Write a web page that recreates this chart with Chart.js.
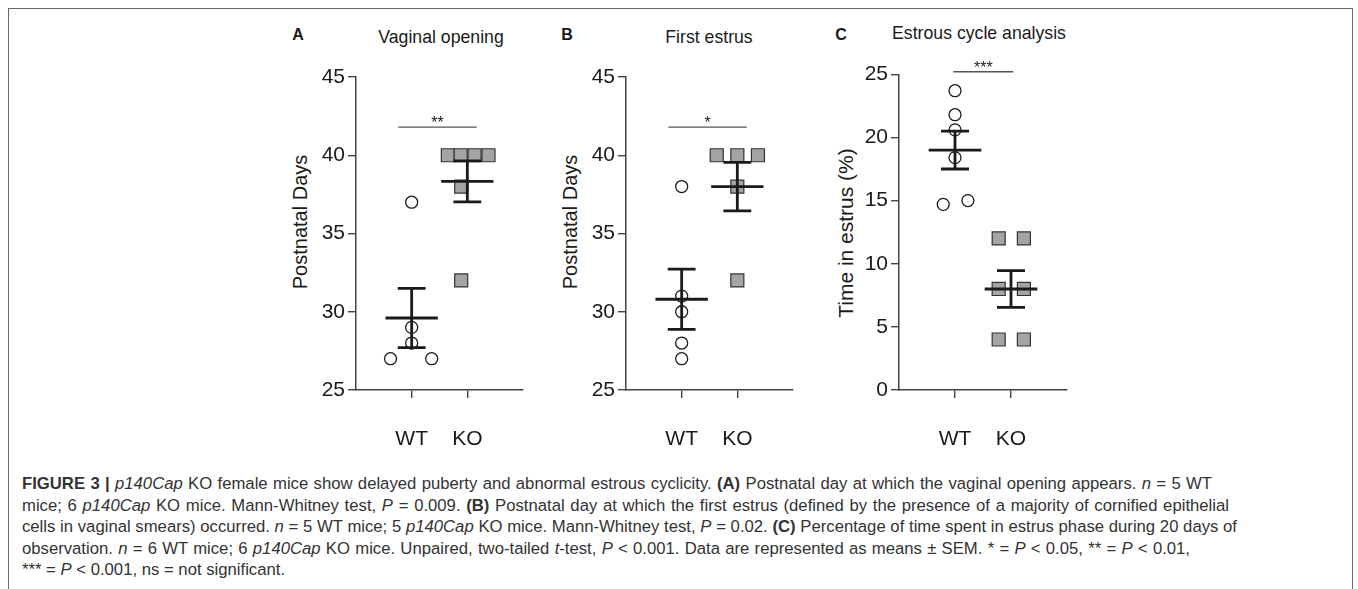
<!DOCTYPE html>
<html>
<head>
<meta charset="utf-8">
<script src="https://cdn.jsdelivr.net/npm/chart.js@4.4.1/dist/chart.umd.min.js"></script>
<style>
  body { margin: 0; background: #fff; }
  #fig { position: relative; width: 1358px; height: 589px; overflow: hidden; background: #fff;
         font-family: 'Liberation Sans', Arial, sans-serif; color: #1a1a1a; }
  .frame { position: absolute; left: 8px; top: 8px; width: 1343px; height: 640px; border: 1.5px solid #666; }
  .cv { position: absolute; }
  .letter { position: absolute; font-weight: bold; font-size: 16px; line-height: 1; transform: translate(-50%, -50%); }
  .ptitle { position: absolute; font-size: 19px; line-height: 1; white-space: nowrap;
            transform: translate(-50%, -50%) scaleX(0.93); }
  .ytitle { position: absolute; font-size: 20px; line-height: 1; white-space: nowrap;
            transform: translate(-50%, -50%) rotate(-90deg); }
  .caption { position: absolute; left: 22px; top: 473px; font-size: 16.7px; line-height: 21.5px; color: #333; }
  .caption div { white-space: nowrap; }
</style>
</head>
<body>
<div id="fig">
  <div class="frame"></div>

  <div class="letter" style="left:298px;top:35px">A</div>
  <div class="letter" style="left:567px;top:35px">B</div>
  <div class="letter" style="left:841px;top:35px">C</div>
  <div class="ptitle" style="left:441px;top:36px">Vaginal opening</div>
  <div class="ptitle" style="left:709px;top:36px">First estrus</div>
  <div class="ptitle" style="left:979px;top:32px">Estrous cycle analysis</div>

  <div class="ytitle" style="left:300px;top:222px">Postnatal Days</div>
  <div class="ytitle" style="left:570px;top:222px">Postnatal Days</div>
  <div class="ytitle" style="left:845px;top:233px;font-size:21px">Time in estrus (%)</div>

  <canvas id="chartA" class="cv" width="260" height="440" style="left:280px;top:20px"></canvas>
  <canvas id="chartB" class="cv" width="260" height="440" style="left:550px;top:20px"></canvas>
  <canvas id="chartC" class="cv" width="265" height="440" style="left:820px;top:20px"></canvas>

  <div class="caption">
    <div><span><b>FIGURE 3 |</b> <i>p140Cap</i> KO female mice show delayed puberty and abnormal estrous cyclicity. <b>(A)</b> Postnatal day at which the vaginal opening appears. <i>n</i> = 5 WT</span></div>
    <div><span>mice; 6 <i>p140Cap</i> KO mice. Mann-Whitney test, <i>P</i> = 0.009. <b>(B)</b> Postnatal day at which the first estrus (defined by the presence of a majority of cornified epithelial</span></div>
    <div><span>cells in vaginal smears) occurred. <i>n</i> = 5 WT mice; 5 <i>p140Cap</i> KO mice. Mann-Whitney test, <i>P</i> = 0.02. <b>(C)</b> Percentage of time spent in estrus phase during 20 days of</span></div>
    <div><span>observation. <i>n</i> = 6 WT mice; 6 <i>p140Cap</i> KO mice. Unpaired, two-tailed <i>t</i>-test, <i>P</i> &lt; 0.001. Data are represented as means ± SEM. * = <i>P</i> &lt; 0.05, ** = <i>P</i> &lt; 0.01,</span></div>
    <div><span>*** = <i>P</i> &lt; 0.001, ns = not significant.</span></div>
  </div>
</div>

<script>
/* ---------- data ---------- */
const groups = ['WT', 'KO'];

// A: vaginal opening (postnatal day)
const vagWT = [37, 29, 28, 27, 27];
const vagWTJitter = [0, 0, 0, -0.38, 0.36];
const vagKO = [40, 40, 40, 40, 38, 32];
const vagKOJitter = [-0.35, -0.12, 0.13, 0.38, -0.11, -0.11];
const vagMean = [29.6, 38.33];
const vagSem = [1.89, 1.31];

// B: first estrus (postnatal day)
const estWT = [38, 31, 30, 28, 27];
const estWTJitter = [0, 0, 0, 0, 0];
const estKO = [40, 40, 40, 38, 32];
const estKOJitter = [-0.37, 0, 0.37, 0, 0];
const estMean = [30.8, 38.0];
const estSem = [1.93, 1.55];

// C: time in estrus (%)
const cycWT = [23.7, 21.8, 20.6, 18.4, 14.7, 15.0];
const cycWTJitter = [0, 0, 0, 0, -0.21, 0.23];
const cycKO = [12, 12, 8, 8, 4, 4];
const cycKOJitter = [-0.22, 0.23, -0.22, 0.23, -0.22, 0.23];
const cycMean = [19.0, 8.0];
const cycSem = [1.5, 1.46];

const daysTicks = [25, 30, 35, 40, 45];
const pctTicks = [0, 5, 10, 15, 20, 25];

/* ---------- style ---------- */
const INK = '#1a1a1a';
const AXIS = '#444';
const FONT = "'Liberation Sans', Arial, sans-serif";

function toPoints(values, jitter, groupIdx) {
  return values.map((v, i) => ({ x: groupIdx + 1 + jitter[i], y: v }));
}

// mean line + SEM whiskers drawn on top of the points
const meanSemPlugin = {
  id: 'meanSem',
  afterDatasetsDraw(chart, args, opts) {
    const { ctx, scales: { x, y } } = chart;
    ctx.save();
    ctx.strokeStyle = INK;
    ctx.lineWidth = 2.8;
    opts.means.forEach((m, i) => {
      const cx = x.getPixelForValue(i + 1);
      const half = x.getPixelForValue(i + 1 + opts.halfMean) - cx;
      const cap = x.getPixelForValue(i + 1 + opts.halfCap) - cx;
      const yM = y.getPixelForValue(m);
      const yHi = y.getPixelForValue(m + opts.sems[i]);
      const yLo = y.getPixelForValue(m - opts.sems[i]);
      ctx.beginPath();
      ctx.moveTo(cx - half, yM); ctx.lineTo(cx + half, yM);
      ctx.moveTo(cx, yHi); ctx.lineTo(cx, yLo);
      ctx.moveTo(cx - cap, yHi); ctx.lineTo(cx + cap, yHi);
      ctx.moveTo(cx - cap, yLo); ctx.lineTo(cx + cap, yLo);
      ctx.stroke();
    });
    ctx.restore();
  }
};

// significance bracket with stars
const sigPlugin = {
  id: 'sig',
  afterDatasetsDraw(chart, args, opts) {
    const { ctx, scales: { x, y } } = chart;
    const x1 = x.getPixelForValue(opts.from);
    const x2 = x.getPixelForValue(opts.to);
    const yy = y.getPixelForValue(opts.at);
    ctx.save();
    ctx.strokeStyle = '#555';
    ctx.lineWidth = 1.4;
    ctx.beginPath();
    ctx.moveTo(x1, yy); ctx.lineTo(x2, yy);
    ctx.stroke();
    ctx.fillStyle = INK;
    ctx.font = '16px ' + FONT;
    ctx.textAlign = 'center';
    ctx.textBaseline = 'alphabetic';
    ctx.fillText(opts.label, (x1 + x2) / 2, yy + 1);
    ctx.restore();
  }
};

function makePanel(id, cfg) {
  const ctx = document.getElementById(id);
  return new Chart(ctx, {
    type: 'scatter',
    data: {
      datasets: [{
        label: groups[0],
        data: toPoints(cfg.wt, cfg.wtJitter, 0),
        pointStyle: 'circle',
        pointRadius: 6,
        pointBorderWidth: 1.3,
        pointBorderColor: INK,
        pointBackgroundColor: '#fff',
      }, {
        label: groups[1],
        data: toPoints(cfg.ko, cfg.koJitter, 1),
        pointStyle: 'rect',
        pointRadius: 9.2,
        pointBorderWidth: 1.2,
        pointBorderColor: '#333',
        pointBackgroundColor: '#a4a4a4',
      }],
    },
    options: {
      responsive: false,
      animation: false,
      events: [],
      clip: false,
      layout: { padding: cfg.padding },
      plugins: {
        legend: { display: false },
        tooltip: { enabled: false },
        meanSem: { means: cfg.mean, sems: cfg.sem, halfMean: 0.47, halfCap: 0.25 },
        sig: cfg.sig,
      },
      scales: {
        x: {
          type: 'linear',
          min: 0,
          max: 3,
          afterBuildTicks: (s) => { s.ticks = groups.map((g, i) => ({ value: i + 1 })); },
          afterFit: (s) => { s.height = cfg.xAxisHeight; },
          ticks: {
            autoSkip: false,
            maxRotation: 0,
            padding: 29,
            color: INK,
            font: { family: FONT, size: 21 },
            callback: (v) => groups[v - 1] || '',
          },
          grid: { drawOnChartArea: false, drawTicks: true, tickLength: 8, color: AXIS, lineWidth: 1.4 },
          border: { color: AXIS, width: 1.5 },
        },
        y: {
          min: cfg.yTicks[0],
          max: cfg.yTicks[cfg.yTicks.length - 1],
          afterBuildTicks: (s) => { s.ticks = cfg.yTicks.map(v => ({ value: v })); },
          afterFit: (s) => { s.width = cfg.yAxisWidth; },
          ticks: {
            padding: 3,
            color: INK,
            font: { family: FONT, size: 21 },
          },
          grid: { drawOnChartArea: false, drawTicks: true, tickLength: 8, color: AXIS, lineWidth: 1.4 },
          border: { color: AXIS, width: 1.5 },
        },
      },
    },
    plugins: [meanSemPlugin, sigPlugin],
  });
}

makePanel('chartA', {
  wt: vagWT, wtJitter: vagWTJitter, ko: vagKO, koJitter: vagKOJitter,
  mean: vagMean, sem: vagSem, yTicks: daysTicks,
  padding: { left: 0, top: 57, right: 17, bottom: 0 },
  yAxisWidth: 76, xAxisHeight: 70,
  sig: { from: 0.76, to: 2.17, at: 41.8, label: '**' },
});

makePanel('chartB', {
  wt: estWT, wtJitter: estWTJitter, ko: estKO, koJitter: estKOJitter,
  mean: estMean, sem: estSem, yTicks: daysTicks,
  padding: { left: 0, top: 57, right: 17, bottom: 0 },
  yAxisWidth: 76, xAxisHeight: 70,
  sig: { from: 0.76, to: 2.17, at: 41.8, label: '*' },
});

makePanel('chartC', {
  wt: cycWT, wtJitter: cycWTJitter, ko: cycKO, koJitter: cycKOJitter,
  mean: cycMean, sem: cycSem, yTicks: pctTicks,
  padding: { left: 0, top: 54.3, right: 18, bottom: 0 },
  yAxisWidth: 79, xAxisHeight: 70,
  sig: { from: 0.97, to: 2.04, at: 25.2, label: '***' },
});

// stretch caption lines to the widths of the printed lines
const lineWidths = [1190, 1207, 1215, 1168];
document.querySelectorAll('.caption span').forEach((span, i) => {
  if (lineWidths[i] === undefined) return;
  const w = span.getBoundingClientRect().width;
  const gaps = span.textContent.split(' ').length - 1;
  span.style.wordSpacing = ((lineWidths[i] - w) / gaps) + 'px';
});
</script>
</body>
</html>
